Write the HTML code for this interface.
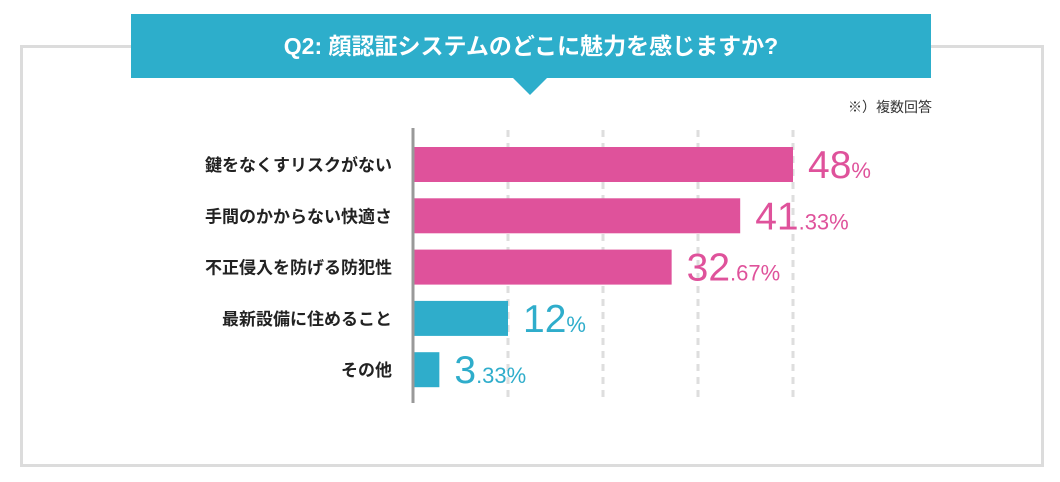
<!DOCTYPE html>
<html><head><meta charset="utf-8"><style>
body{margin:0;width:1060px;height:482px;background:#fff;font-family:"Liberation Sans","Noto Sans CJK JP",sans-serif;position:relative;overflow:hidden}
#box{position:absolute;left:20px;top:45px;width:1018px;height:416px;border:3px solid #dcdcdc}
#title{position:absolute;left:131px;top:14px;width:800px;height:64px;background:#2daecb;color:#fff;font-size:23px;font-weight:bold;text-align:center;line-height:64px}
#tri{position:absolute;left:513px;top:78px;width:0;height:0;border-left:17px solid transparent;border-right:17px solid transparent;border-top:17px solid #2daecb}
#note{position:absolute;left:848px;top:97px;font-size:14px;color:#333}
</style></head><body>
<div id="box"></div>
<div id="title">Q2: 顔認証システムのどこに魅力を感じますか?</div>
<div id="tri"></div>
<div id="note">※）複数回答</div>
<svg id="chart" width="1060" height="482" style="position:absolute;left:0;top:0"></svg>
<script>
const categories=["鍵をなくすリスクがない","手間のかからない快適さ","不正侵入を防げる防犯性","最新設備に住めること","その他"];
const values=[48,41.33,32.67,12,3.33];
const intParts=["48","41","32","12","3"];
const decParts=["%",".33%",".67%","%",".33%"];
const gridTicks=[12,24,36,48];
const colors=["#df529b","#df529b","#df529b","#2fadcb","#2fadcb"];
const NS="http://www.w3.org/2000/svg";
const svg=document.getElementById('chart');
const x0=413,pxPer=(793-413)/48;
const xs=v=>x0+v*pxPer;
const ys=i=>147+i*51.3;
function mk(t,a){const e=document.createElementNS(NS,t);for(const k in a)e.setAttribute(k,a[k]);svg.appendChild(e);return e;}
gridTicks.forEach(t=>{
 const g=mk('line',{x1:xs(t),x2:xs(t),y1:130,y2:403,stroke:'#dedede','stroke-width':3,'stroke-dasharray':'7,6'});
 
 
});
values.forEach((v,i)=>{
 const b=mk('rect',{x:x0,y:ys(i),width:xs(v)-x0,height:35,fill:colors[i]});
 
 
 const l=mk('text',{x:392,y:ys(i)+24,'text-anchor':'end','font-size':17,'font-weight':'bold',fill:'#222'});
 l.textContent=categories[i];
 
 
 const t=mk('text',{x:xs(v)+15,y:ys(i)+31,fill:colors[i]});
 
 
 const a=document.createElementNS(NS,'tspan');a.setAttribute('font-size','39');a.textContent=intParts[i];t.appendChild(a);
 const c=document.createElementNS(NS,'tspan');c.setAttribute('font-size','22');c.textContent=decParts[i];t.appendChild(c);
});
const ax=mk('line',{x1:x0,x2:x0,y1:128,y2:403,stroke:'#999','stroke-width':3});


</script>
</body></html>
